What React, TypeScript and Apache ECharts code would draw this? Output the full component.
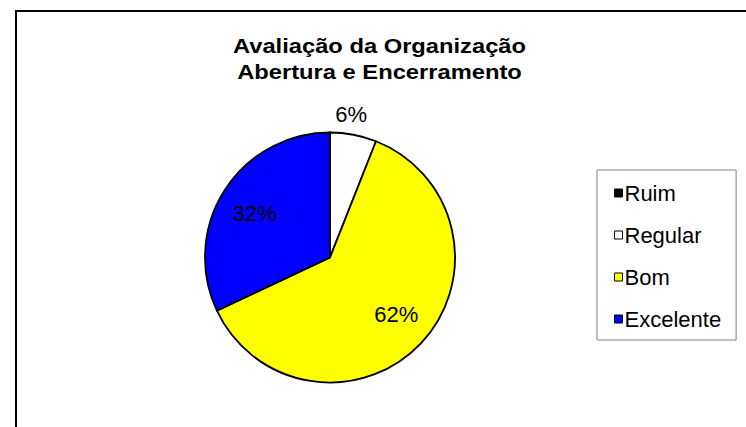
import React, { useEffect, useRef } from "react";
import * as echarts from "echarts";

const categories = ["Ruim", "Regular", "Bom", "Excelente"];
const values = [0, 6, 62, 32];
const colors = ["#000000", "#FFFFFF", "#FFFF00", "#0000FF"];
const titleLines = ["Avaliação da Organização", "Abertura e Encerramento"];

const FONT = '"Liberation Sans", Arial, sans-serif';

export default function App() {
  const ref = useRef<HTMLDivElement>(null);
  useEffect(() => {
    if (!ref.current) return;
    const chart = echarts.init(ref.current, null, { renderer: "svg" });
    const cx = 330;
    const cy = 257.5;
    const R = 125;
    const mainData = categories.map((name, i) => ({
      name,
      value: values[i],
      itemStyle: { color: colors[i] },
    }));
    const innerOffsets: Record<string, number[]> = { Bom: [1, -4], Excelente: [0, 4] };
    const innerData = categories.map((name, i) => ({
      name,
      value: values[i],
      label: {
        show: name === "Bom" || name === "Excelente",
        offset: innerOffsets[name] || [0, 0],
      },
    }));
    const outerData = categories.map((name, i) => ({
      name,
      value: values[i],
      label: { show: name === "Regular", offset: [-6, 0] },
    }));
    const labelStyle = {
      position: "inside",
      formatter: (p: any) => Math.round(p.percent) + "%",
      fontFamily: FONT,
      fontSize: 22,
      color: "#000",
    };
    chart.setOption({
      animation: false,
      graphic: [
        {
          type: "rect",
          shape: { x: 16, y: 11, width: 800, height: 500 },
          style: { fill: "none", stroke: "#000", lineWidth: 2 },
          z: -10,
        },
        {
          type: "text",
          x: 379.5,
          y: 33,
          scaleX: 1.13,
          style: {
            text: titleLines.join("\n"),
            fontFamily: FONT,
            fontSize: 21,
            fontWeight: "bold",
            lineHeight: 26,
            align: "center",
            verticalAlign: "top",
            fill: "#000",
          },
        },
      ],
      legend: {
        orient: "vertical",
        left: 597,
        top: 170,
        data: categories,
        icon: "rect",
        itemWidth: 8,
        itemHeight: 8,
        itemGap: 20,
        padding: [12, 15, 10, 17],
        borderColor: "#808080",
        borderWidth: 1,
        itemStyle: { borderColor: "#000", borderWidth: 1 },
        textStyle: {
          fontFamily: FONT,
          fontSize: 22,
          lineHeight: 21,
          color: "#000",
          padding: [0, 0, 0, -3],
        },
        selectedMode: false,
      },
      series: [
        {
          type: "pie",
          center: [cx, cy],
          radius: [0, R],
          startAngle: 90,
          clockwise: true,
          stillShowZeroSum: true,
          avoidLabelOverlap: false,
          label: { show: false },
          labelLine: { show: false },
          itemStyle: { borderColor: "#000", borderWidth: 1.8 },
          emphasis: { disabled: true },
          data: mainData,
          z: 2,
        },
        {
          type: "pie",
          center: [cx, cy],
          radius: [48, R],
          startAngle: 90,
          clockwise: true,
          silent: true,
          avoidLabelOverlap: false,
          itemStyle: { color: "rgba(0,0,0,0)", borderWidth: 0 },
          label: labelStyle,
          labelLine: { show: false },
          emphasis: { disabled: true },
          data: innerData,
          z: 3,
        },
        {
          type: "pie",
          center: [cx, cy],
          radius: [R, 160],
          startAngle: 90,
          clockwise: true,
          silent: true,
          avoidLabelOverlap: false,
          itemStyle: { color: "rgba(0,0,0,0)", borderWidth: 0 },
          label: labelStyle,
          labelLine: { show: false },
          emphasis: { disabled: true },
          data: outerData,
          z: 3,
        },
      ],
    });
    return () => chart.dispose();
  }, []);
  return (
    <div
      ref={ref}
      style={{ position: "fixed", left: 0, top: 0, width: 746, height: 427, background: "#fff" }}
    />
  );
}
